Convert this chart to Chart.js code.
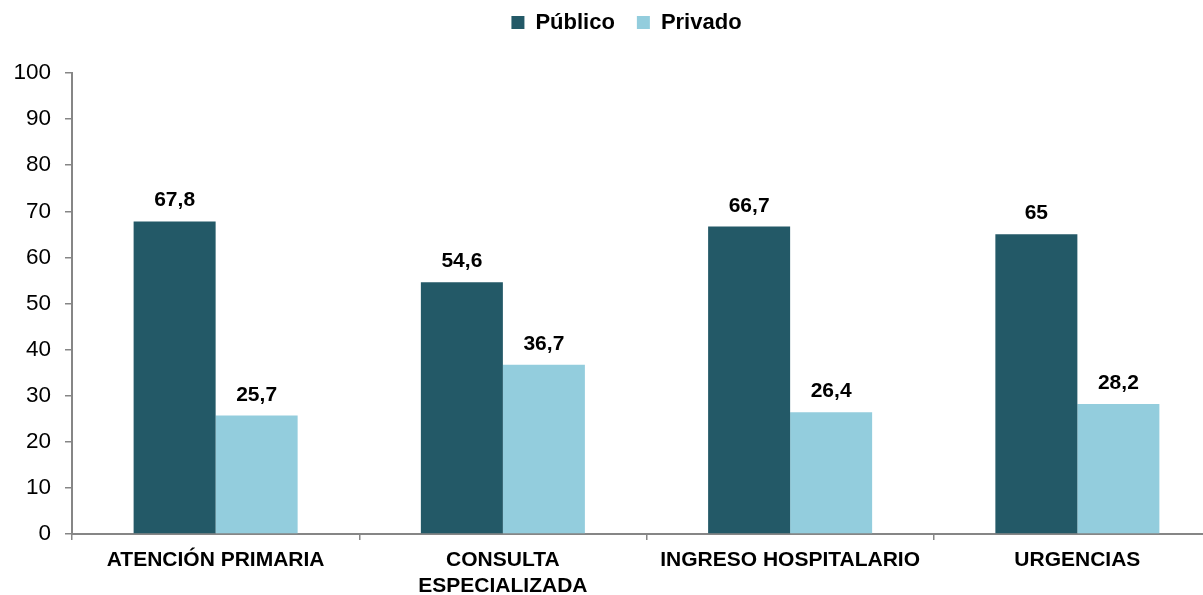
<!DOCTYPE html>
<html>
<head>
<meta charset="utf-8">
<script src="https://cdn.jsdelivr.net/npm/chart.js@4/dist/chart.umd.min.js"></script>
<style>
html,body{margin:0;padding:0;overflow:hidden;background:#fff;}
#wrap{width:1240px;height:595px;position:relative;}
</style>
</head>
<body>
<div id="wrap"><canvas id="c"></canvas></div>
<script>
const categories = ['ATENCIÓN PRIMARIA', ['CONSULTA', 'ESPECIALIZADA'], 'INGRESO HOSPITALARIO', 'URGENCIAS'];
const publico = [67.8, 54.6, 66.7, 65];
const privado = [25.7, 36.7, 26.4, 28.2];
const seriesNames = ['Público', 'Privado'];

const FONT = '"Liberation Sans", Arial, sans-serif';
const GRAY = '#868686';
const PAD_TOP = -10.5;
const LEGEND_SHIFT = 16;

const dataLabels = {
  id: 'dataLabels',
  afterDatasetsDraw(chart) {
    const ctx = chart.ctx;
    ctx.save();
    ctx.font = 'bold 21px ' + FONT;
    ctx.fillStyle = '#000';
    ctx.textAlign = 'center';
    ctx.textBaseline = 'alphabetic';
    chart.data.datasets.forEach((ds, i) => {
      chart.getDatasetMeta(i).data.forEach((bar, j) => {
        const txt = String(ds.data[j]).replace('.', ',');
        ctx.fillText(txt, bar.x, bar.y - 15);
      });
    });
    ctx.restore();
  }
};

const legendTweak = {
  id: 'legendTweak',
  beforeLayout(chart) {
    const lg = chart.legend;
    if (lg && !lg._wrapped) {
      const orig = lg.fit;
      lg.fit = function () { orig.call(this); this.height = 73 - PAD_TOP; };
      lg._wrapped = true;
    }
  },
  beforeDraw(chart) {
    const lg = chart.legend;
    if (lg && !lg._shifted) {
      lg.left += LEGEND_SHIFT;
      lg.right += LEGEND_SHIFT;
      lg._shifted = true;
    }
  },
  afterLayout(chart) {
    if (chart.legend) chart.legend._shifted = false;
  }
};

new Chart(document.getElementById('c'), {
  type: 'bar',
  data: {
    labels: categories,
    datasets: [
      { label: seriesNames[0], data: publico, backgroundColor: '#235967', borderWidth: 0 },
      { label: seriesNames[1], data: privado, backgroundColor: '#93CDDD', borderWidth: 0 }
    ]
  },
  options: {
    responsive: true,
    maintainAspectRatio: false,
    animation: false,
    layout: { padding: { top: PAD_TOP, left: 0, right: 19, bottom: 0 } },
    datasets: { bar: { categoryPercentage: 0.571, barPercentage: 1.0 } },
    plugins: {
      legend: {
        position: 'top',
        labels: {
          boxWidth: 13, boxHeight: 13, padding: 22,
          color: '#000',
          font: { family: FONT, size: 22, weight: 'bold' }
        }
      },
      tooltip: { enabled: false }
    },
    scales: {
      x: {
        offset: true,
        grid: { offset: true, drawOnChartArea: false, drawTicks: true, tickLength: 6, color: GRAY, lineWidth: 1.5 },
        border: { color: GRAY, width: 2 },
        ticks: { color: '#000', font: { family: FONT, size: 21, weight: 'bold', lineHeight: 1.2 }, padding: 8, maxRotation: 0, autoSkip: false },
        afterFit(s) { s.height = 595 - 534; }
      },
      y: {
        min: 0, max: 100,
        ticks: { stepSize: 10, color: '#000', font: { family: FONT, size: 22.5 }, padding: 14 },
        grid: { drawOnChartArea: false, drawTicks: true, tickLength: 7, color: GRAY, lineWidth: 1.5 },
        border: { color: GRAY, width: 2 },
        afterFit(s) { s.width = 72; }
      }
    }
  },
  plugins: [dataLabels, legendTweak]
});
</script>
</body>
</html>
